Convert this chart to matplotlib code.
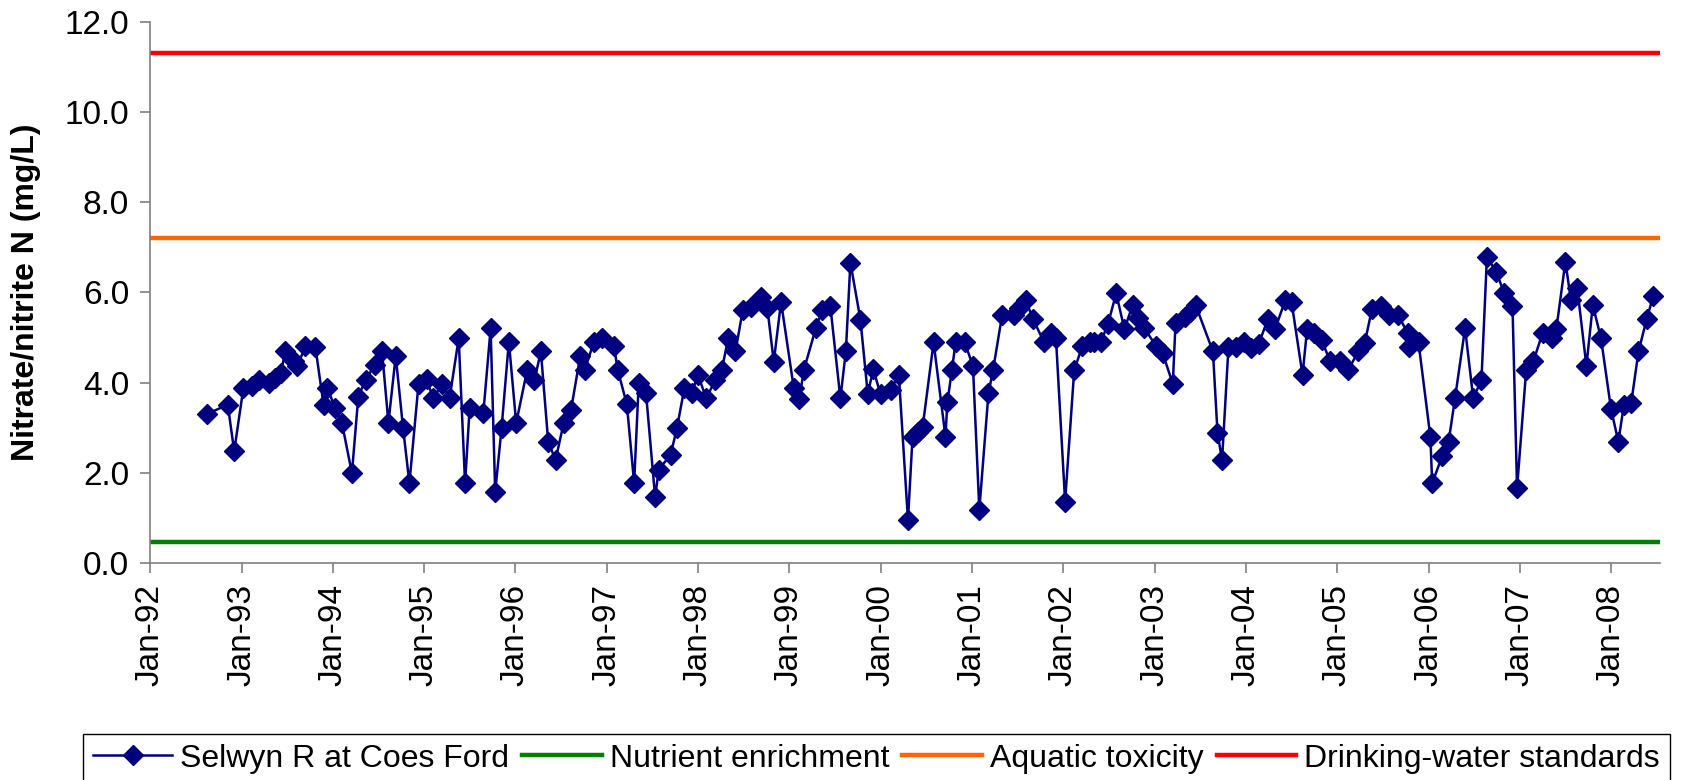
import matplotlib
matplotlib.use('Agg')
import matplotlib.pyplot as plt
import matplotlib.dates as mdates
from matplotlib.lines import Line2D
from datetime import datetime

plt.rcParams['font.family'] = ['Liberation Sans', 'DejaVu Sans']

# sampling times (decimal years) and nitrate/nitrite N (mg/L)
sample_time = [
    1992.62, 1992.85, 1992.92, 1993.02, 1993.12, 1993.19, 1993.30, 1993.37, 1993.43, 1993.48,
    1993.57, 1993.61, 1993.70, 1993.81, 1993.90, 1993.94, 1994.03, 1994.10, 1994.21, 1994.28,
    1994.36, 1994.46, 1994.54, 1994.61, 1994.69, 1994.77, 1994.84, 1994.94, 1995.03, 1995.10,
    1995.20, 1995.28, 1995.38, 1995.45, 1995.50, 1995.65, 1995.73, 1995.78, 1995.85, 1995.93,
    1996.01, 1996.13, 1996.21, 1996.28, 1996.36, 1996.44, 1996.53, 1996.61, 1996.71, 1996.76,
    1996.86, 1996.95, 1997.08, 1997.12, 1997.22, 1997.30, 1997.35, 1997.43, 1997.53, 1997.57,
    1997.70, 1997.77, 1997.85, 1997.93, 1998.00, 1998.09, 1998.19, 1998.26, 1998.33, 1998.41,
    1998.49, 1998.58, 1998.69, 1998.76, 1998.83, 1998.91, 1999.05, 1999.11, 1999.16, 1999.29,
    1999.36, 1999.45, 1999.56, 1999.62, 1999.67, 1999.78, 1999.86, 1999.92, 2000.00, 2000.11,
    2000.20, 2000.30, 2000.35, 2000.41, 2000.46, 2000.58, 2000.71, 2000.73, 2000.78, 2000.82,
    2000.92, 2001.01, 2001.08, 2001.18, 2001.23, 2001.33, 2001.46, 2001.52, 2001.59, 2001.67,
    2001.79, 2001.87, 2001.92, 2002.02, 2002.12, 2002.21, 2002.29, 2002.34, 2002.41, 2002.49,
    2002.58, 2002.67, 2002.76, 2002.82, 2002.89, 2003.02, 2003.09, 2003.20, 2003.23, 2003.33,
    2003.39, 2003.45, 2003.64, 2003.69, 2003.74, 2003.81, 2003.89, 2003.98, 2004.06, 2004.14,
    2004.24, 2004.32, 2004.43, 2004.50, 2004.62, 2004.67, 2004.75, 2004.83, 2004.92, 2005.03,
    2005.12, 2005.23, 2005.30, 2005.38, 2005.48, 2005.57, 2005.67, 2005.77, 2005.79, 2005.89,
    2006.02, 2006.04, 2006.15, 2006.22, 2006.29, 2006.40, 2006.49, 2006.58, 2006.64, 2006.74,
    2006.83, 2006.92, 2006.97, 2007.07, 2007.15, 2007.25, 2007.35, 2007.40, 2007.50, 2007.56,
    2007.63, 2007.73, 2007.80, 2007.89, 2008.00, 2008.08, 2008.14, 2008.22, 2008.30, 2008.39,
    2008.46,
]
nitrate_n = [
    3.30, 3.51, 2.48, 3.87, 3.92, 4.06, 3.98, 4.10, 4.21, 4.69,
    4.47, 4.36, 4.80, 4.78, 3.50, 3.87, 3.43, 3.11, 1.99, 3.69,
    4.06, 4.39, 4.69, 3.11, 4.59, 3.00, 1.77, 3.97, 4.07, 3.65,
    3.97, 3.65, 4.98, 1.77, 3.43, 3.32, 5.20, 1.57, 2.99, 4.91,
    3.10, 4.28, 4.06, 4.69, 2.69, 2.28, 3.11, 3.40, 4.59, 4.28,
    4.91, 4.98, 4.80, 4.28, 3.52, 1.77, 3.98, 3.77, 1.46, 2.07,
    2.40, 3.00, 3.87, 3.76, 4.17, 3.65, 4.06, 4.27, 4.98, 4.69,
    5.60, 5.68, 5.90, 5.65, 4.46, 5.79, 3.87, 3.63, 4.28, 5.20,
    5.61, 5.70, 3.65, 4.69, 6.66, 5.39, 3.75, 4.29, 3.75, 3.84,
    4.17, 0.95, 2.80, 2.91, 3.01, 4.89, 2.80, 3.56, 4.27, 4.89,
    4.89, 4.37, 1.18, 3.76, 4.27, 5.50, 5.50, 5.65, 5.82, 5.40,
    4.89, 5.09, 4.98, 1.36, 4.28, 4.81, 4.91, 4.89, 4.89, 5.30,
    5.98, 5.18, 5.72, 5.43, 5.20, 4.80, 4.65, 3.97, 5.31, 5.46,
    5.57, 5.72, 4.69, 2.89, 2.28, 4.78, 4.78, 4.89, 4.76, 4.85,
    5.40, 5.18, 5.82, 5.79, 4.17, 5.18, 5.09, 4.94, 4.48, 4.48,
    4.28, 4.69, 4.87, 5.63, 5.70, 5.50, 5.50, 5.09, 4.78, 4.89,
    2.80, 1.77, 2.37, 2.69, 3.65, 5.20, 3.65, 4.06, 6.79, 6.46,
    5.98, 5.70, 1.66, 4.28, 4.48, 5.10, 4.98, 5.18, 6.68, 5.83,
    6.09, 4.37, 5.72, 4.98, 3.41, 2.69, 3.50, 3.54, 4.69, 5.41,
    5.91,
]

guideline_names = ['Nutrient enrichment', 'Aquatic toxicity', 'Drinking-water standards']
guideline_values = [0.46, 7.2, 11.3]
guideline_colors = ['#008000', '#FF6600', '#FF0000']

series_name = 'Selwyn R at Coes Ford'
y_ticks = [0, 2, 4, 6, 8, 10, 12]
x_start, x_end = 1992.0, 2008.535


def dec_to_date(y):
    year = int(y)
    a = datetime(year, 1, 1)
    b = datetime(year + 1, 1, 1)
    return a + (b - a) * (y - year)


dates = [dec_to_date(t) for t in sample_time]

fig = plt.figure(figsize=(16.98, 7.8), dpi=100)
ax = fig.add_axes([150 / 1698, 1 - 563 / 780, (1660 - 150) / 1698, (563 - 21.7) / 780])

for name, val, col in zip(guideline_names, guideline_values, guideline_colors):
    ax.axhline(val, color=col, lw=3.2, solid_capstyle='butt', zorder=2)

ax.plot(dates, nitrate_n, color='#000080', lw=1.8, marker='D', markersize=10.5,
        markerfacecolor='#000080', markeredgecolor='#000080', zorder=3, clip_on=False)

ax.set_xlim(dec_to_date(x_start), dec_to_date(x_end))
ax.set_ylim(0, 12)
ax.set_yticks(y_ticks)
ax.yaxis.set_major_formatter(matplotlib.ticker.FormatStrFormatter('%.1f'))
ax.xaxis.set_major_locator(mdates.YearLocator(1, month=1, day=1))
ax.xaxis.set_major_formatter(mdates.DateFormatter('%b-%y'))

for s in ['top', 'right']:
    ax.spines[s].set_visible(False)
for s in ['left', 'bottom']:
    ax.spines[s].set_color('#808080')
    ax.spines[s].set_linewidth(1.2)

ax.tick_params(axis='both', direction='out', length=7, width=1.2, color='#808080')
ax.tick_params(axis='y', labelsize=24, pad=8)
ax.tick_params(axis='x', labelsize=24, pad=8, labelrotation=90)

ax.set_ylabel('Nitrate/nitrite N (mg/L)', fontsize=23, fontweight='bold', labelpad=17)

handles = [Line2D([], [], color='#000080', lw=1.8, marker='D', markersize=10.5)]
for name, col in zip(guideline_names, guideline_colors):
    handles.append(Line2D([], [], color=col, lw=3.2))
labels = [series_name] + guideline_names

leg = fig.legend(handles, labels, loc='upper left', bbox_to_anchor=(83 / 1698, 1 - 734 / 780),
                 bbox_transform=fig.transFigure, ncol=4, fontsize=23, frameon=True,
                 fancybox=False, edgecolor='black', framealpha=1, borderaxespad=0,
                 handlelength=2.5, handletextpad=0.25, columnspacing=0.4, borderpad=0.3,
                 numpoints=1)
leg.get_frame().set_linewidth(1.0)

fig.savefig('out.png', dpi=100)
